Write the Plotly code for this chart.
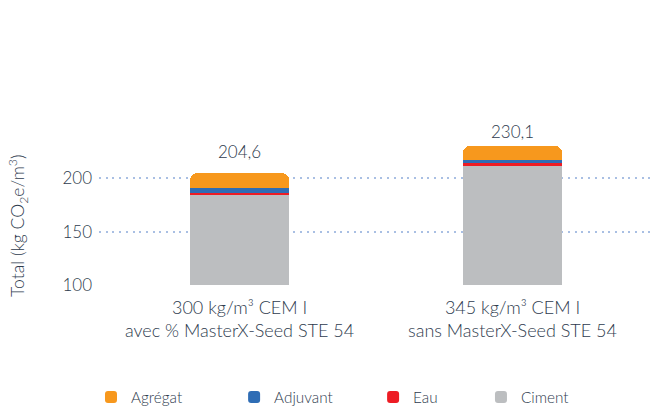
import plotly.graph_objects as go

categories = ["300 kg/m³ CEM I<br>avec % MasterX-Seed STE 54",
              "345 kg/m³ CEM I<br>sans MasterX-Seed STE 54"]
ciment = [184.3, 211.8]
eau = [2.2, 2.2]
adjuvant = [4.1, 3.1]
totals = [204.6, 230.1]
agregat = [round(t - c - e - a, 1) for t, c, e, a in zip(totals, ciment, eau, adjuvant)]
total_labels = ["204,6", "230,1"]
y_ticks = [100, 150, 200]
y_title = "Total (kg CO<sub>2</sub>e/m<sup>3</sup>)"

FONT = "Lato"
W = 300
TXT = "#2e3b4e"
label_shifts = [9, 2]

series = [
    ("Ciment", ciment, "#bcbec0", "legend4", 0.687),
    ("Eau", eau, "#ed1c24", "legend3", 0.493),
    ("Adjuvant", adjuvant, "#2f6db5", "legend2", 0.243),
    ("Agrégat", agregat, "#f7981d", "legend", -0.0144),
]

fig = go.Figure()
for name, vals, col, lg, _ in series:
    fig.add_trace(go.Bar(x=categories, y=vals, name=name, marker_color=col,
                         marker_line_width=0, width=0.363, legend=lg))

for cat, t, lab, sh in zip(categories, totals, total_labels, label_shifts):
    fig.add_annotation(x=cat, y=t, text=lab, showarrow=False, yanchor="bottom",
                       yshift=sh, font=dict(family=FONT, size=17, color=TXT, weight=W))

# y-axis title
fig.add_annotation(xref="paper", yref="paper", x=-0.1457, y=0.351, text=y_title,
                   textangle=-90, showarrow=False, xanchor="center", yanchor="middle",
                   font=dict(family=FONT, size=17.6, color=TXT, weight=W))

legend_common = dict(orientation="h", y=-0.655, yanchor="middle", xanchor="left",
                     font=dict(family=FONT, size=15.3, color=TXT, weight=W),
                     bgcolor="rgba(0,0,0,0)", itemclick=False)
layout_legends = {}
for name, vals, col, lg, xpos in series:
    layout_legends[lg] = dict(legend_common, x=xpos)

fig.update_layout(
    width=660, height=406,
    margin=dict(l=99, r=5, t=114, b=121, autoexpand=False),
    paper_bgcolor="white", plot_bgcolor="white",
    barmode="stack", barcornerradius=7,
    font=dict(family=FONT, size=16, color=TXT, weight=W),
    showlegend=True,
    **layout_legends,
)
fig.update_xaxes(range=[-0.515, 1.522], showgrid=False, zeroline=False, automargin=False,
                 showline=False, ticks="", ticklabelstandoff=10,
                 tickfont=dict(family=FONT, size=18, color=TXT, weight=W))
fig.update_yaxes(range=[100, 260], tickvals=y_ticks, showgrid=True, automargin=False,
                 gridcolor="#a9bfe3", gridwidth=2, griddash="2px,4.7px",
                 zeroline=False, showline=False, ticks="", ticklabelstandoff=6,
                 tickfont=dict(family=FONT, size=17, color=TXT, weight=W))

fig.write_html("out.html", config={"displayModeBar": False},
               post_script="document.body.style.margin='0';document.body.style.overflow='hidden';")
